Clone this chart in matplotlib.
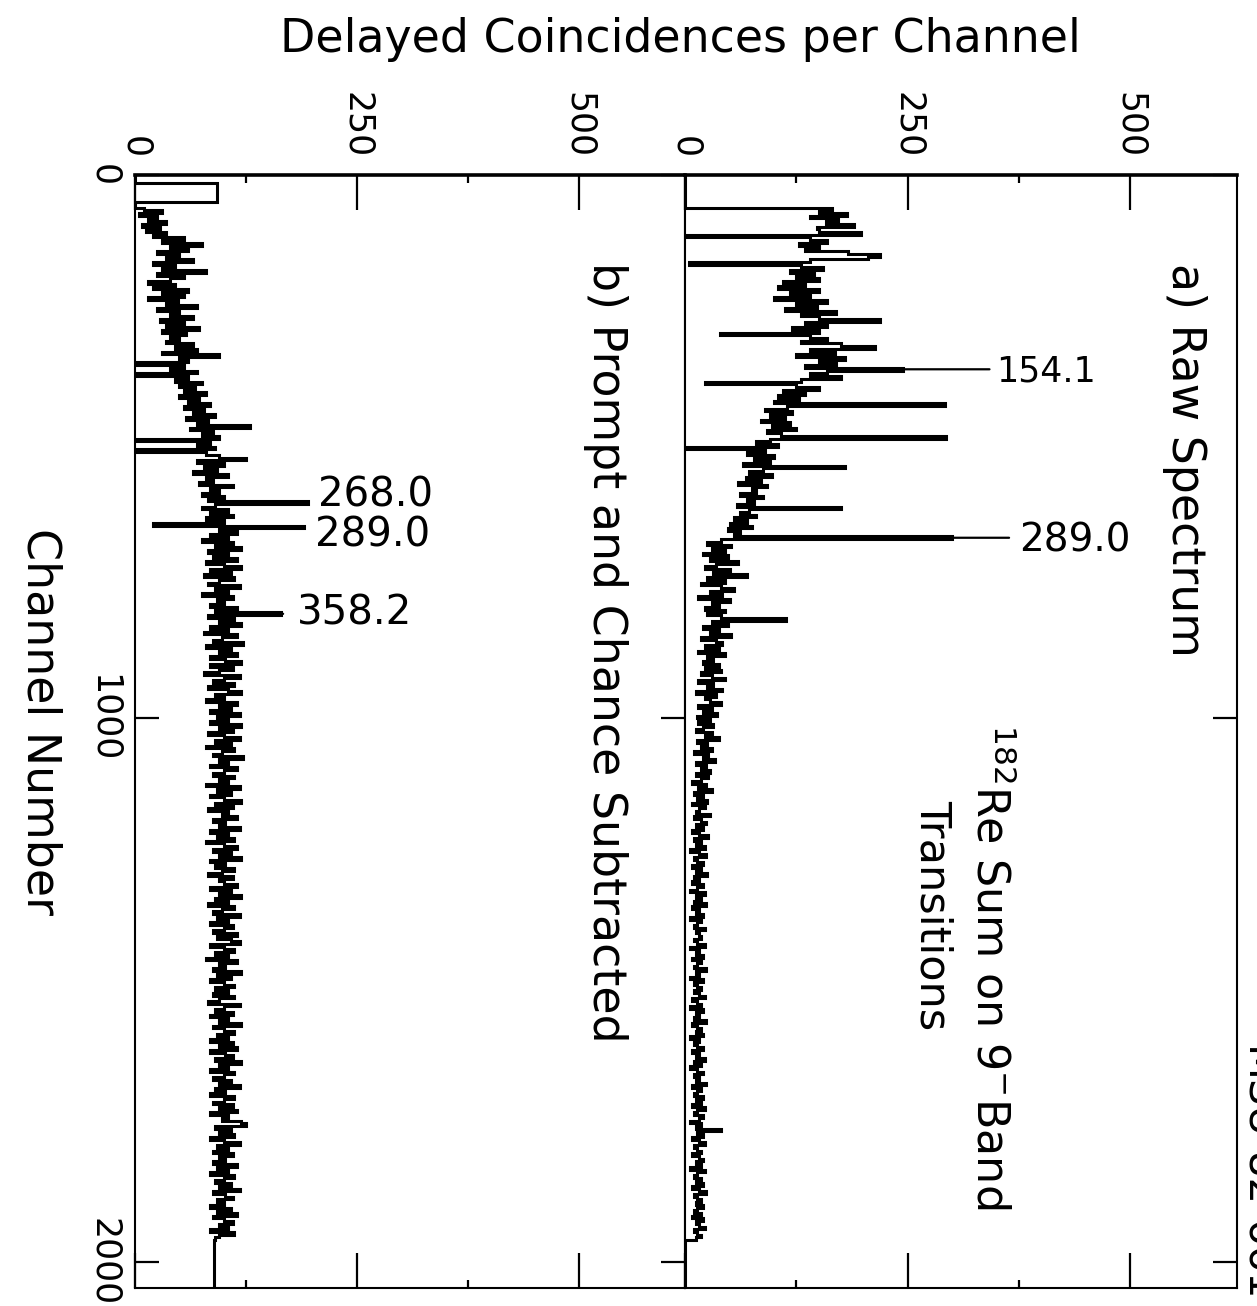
import numpy as np
import matplotlib.pyplot as plt
from matplotlib import font_manager

plt.rcParams['font.family'] = 'DejaVu Sans'
plt.rcParams['mathtext.default'] = 'regular'

W, H = 1257, 1306

# counts per 5-channel bin (channel 0 .. 2050)
bin_width = 5

# a) raw spectrum  (one row = 100 channels)
raw_counts = [
    0, 0, 0, 0, 0, 0, 0, 0, 0, 0, 0, 0, 165, 150, 182, 140, 172, 158, 190, 148,
    150, 198, 0, 140, 160, 128, 150, 135, 183, 219, 205, 140, 5, 130, 155, 118, 145, 125, 150, 110,
    135, 105, 150, 118, 140, 100, 160, 125, 148, 112, 170, 130, 150, 219, 135, 160, 120, 150, 39, 140,
    160, 130, 175, 213, 140, 168, 125, 180, 150, 170, 135, 245, 160, 140, 175, 130, 22, 125, 150, 110,
    135, 105, 128, 100, 292, 115, 90, 120, 95, 112, 85, 118, 98, 125, 92, 108, 293, 95, 80, 105,
    0, 90, 70, 100, 78, 95, 65, 180, 88, 72, 98, 68, 85, 60, 92, 75, 80, 62, 88, 70,
    78, 58, 175, 72, 62, 80, 55, 70, 50, 75, 48, 62, 55, 300, 40, 25, 52, 30, 45, 20,
    48, 28, 60, 35, 22, 50, 32, 70, 25, 45, 18, 40, 55, 28, 42, 15, 50, 30, 38, 22,
    45, 25, 40, 113, 30, 48, 20, 38, 28, 52, 18, 35, 42, 22, 38, 15, 45, 25, 32, 20,
    38, 22, 40, 18, 30, 45, 15, 32, 25, 42, 12, 35, 22, 28, 40, 15, 30, 20, 36, 14,
    28, 15, 32, 20, 12, 30, 22, 38, 14, 25, 18, 30, 10, 26, 20, 34, 12, 24, 18, 28,
    12, 26, 18, 8, 24, 15, 30, 10, 20, 14, 25, 8, 22, 16, 12, 28, 10, 18, 24, 12,
    20, 8, 16, 26, 10, 18, 12, 22, 6, 16, 24, 10, 14, 20, 8, 18, 12, 25, 10, 16,
    8, 20, 14, 6, 22, 12, 18, 10, 24, 8, 16, 12, 20, 6, 18, 14, 10, 22, 12, 16,
    18, 10, 14, 22, 6, 16, 12, 20, 8, 18, 14, 10, 24, 12, 16, 6, 20, 10, 14, 18,
    10, 16, 22, 8, 14, 18, 6, 20, 12, 16, 10, 24, 8, 14, 18, 12, 20, 6, 16, 10,
    14, 20, 8, 16, 12, 22, 10, 18, 6, 14, 20, 10, 16, 12, 24, 8, 18, 14, 10, 20,
    12, 18, 8, 22, 14, 10, 20, 16, 6, 18, 12, 40, 14, 20, 8, 16, 22, 10, 14, 18,
    8, 16, 20, 12, 18, 6, 22, 14, 10, 18, 12, 20, 8, 16, 24, 10, 14, 18, 12, 20,
    14, 10, 18, 8, 20, 12, 16, 22, 10, 14, 18, 12, 0, 0, 0, 0, 0, 0, 0, 0,
    0, 0, 0, 0, 0, 0, 0, 0, 0, 0,
]

# b) prompt and chance subtracted
sub_counts = [
    0, 0, 0, 92, 92, 92, 92, 92, 92, 92, 0, 0, 10, 30, 5, 25, 15, 35, 8, 28,
    12, 35, 20, 55, 30, 75, 40, 60, 25, 50, 35, 65, 20, 45, 30, 80, 25, 55, 40, 15,
    45, 20, 60, 30, 55, 15, 48, 35, 70, 25, 50, 40, 65, 28, 55, 35, 72, 30, 58, 40,
    50, 35, 65, 45, 70, 30, 95, 50, 60, 0, 55, 40, 70, 0, 60, 45, 75, 50, 68, 55,
    80, 50, 72, 60, 85, 55, 78, 65, 90, 58, 82, 70, 130, 62, 88, 75, 95, 0, 85, 70,
    90, 0, 80, 95, 125, 70, 100, 78, 92, 65, 105, 80, 88, 72, 110, 85, 95, 75, 100, 82,
    195, 90, 75, 105, 85, 110, 80, 100, 20, 190, 95, 115, 85, 105, 75, 110, 90, 120, 82, 105,
    88, 115, 80, 100, 120, 85, 108, 78, 112, 95, 82, 118, 90, 105, 75, 110, 92, 100, 85, 115,
    90, 165, 82, 112, 95, 120, 85, 105, 78, 115, 98, 88, 122, 80, 108, 95, 115, 85, 102, 120,
    85, 110, 95, 78, 118, 100, 88, 112, 82, 105, 120, 90, 100, 80, 115, 95, 108, 85, 118, 92,
    105, 85, 120, 95, 110, 82, 100, 118, 90, 108, 80, 112, 98, 88, 122, 95, 105, 85, 115, 100,
    88, 112, 95, 105, 80, 118, 92, 108, 85, 100, 120, 90, 110, 82, 105, 98, 115, 88, 102, 95,
    118, 85, 105, 92, 112, 80, 100, 115, 88, 108, 95, 120, 85, 102, 90, 112, 98, 82, 110, 95,
    100, 115, 85, 108, 95, 120, 90, 105, 82, 112, 98, 88, 118, 92, 105, 85, 110, 100, 88, 115,
    92, 108, 118, 85, 100, 112, 90, 105, 80, 115, 95, 102, 88, 120, 92, 108, 85, 100, 112, 90,
    105, 88, 112, 95, 82, 118, 100, 90, 110, 85, 105, 95, 120, 88, 100, 112, 92, 105, 85, 110,
    95, 115, 85, 102, 110, 90, 120, 95, 105, 85, 112, 100, 88, 108, 95, 118, 90, 102, 85, 112,
    100, 88, 110, 95, 115, 85, 105, 98, 120, 125, 90, 108, 95, 112, 85, 100, 118, 92, 105, 88,
    110, 95, 102, 88, 115, 92, 105, 85, 112, 100, 90, 108, 95, 118, 88, 102, 110, 92, 100, 85,
    108, 92, 115, 88, 100, 110, 95, 105, 85, 112, 95, 90, 89, 89, 89, 89, 89, 89, 89, 89,
    89, 89, 89, 89, 89, 89, 89, 89, 89, 89,
]

count_ticks = [0, 250, 500]
count_minor = [125, 375]
channel_ticks = [0, 1000, 2000]

# peak labels (energy in keV) and the channel of the peak
peaks_a = ['154.1', '289.0']
peak_ch_a = [357.5, 667.5]
peaks_b = ['268.0', '289.0', '358.2']
peak_ch_b = [602.5, 647.5, 807.5]

names = {f.name for f in font_manager.fontManager.ttflist}
narrow = 'Liberation Sans Narrow' in names
tick_font = 'Liberation Sans Narrow' if narrow else 'DejaVu Sans'
tick_size = 31 if narrow else 25


def px(x, y):
    return x / W, 1 - y / H


fig = plt.figure(figsize=(W / 100, H / 100), dpi=100)
top, bottom = 175, 1288
ax_b = fig.add_axes([135 / W, 1 - bottom / H, 550 / W, (bottom - top) / H])
ax_a = fig.add_axes([685 / W, 1 - bottom / H, 552 / W, (bottom - top) / H])

for ax, vals in [(ax_a, raw_counts), (ax_b, sub_counts)]:
    edges = np.arange(len(vals) + 1) * bin_width
    ax.stairs(vals, edges, orientation='horizontal', baseline=None,
              color='black', lw=2.2)
    ax.set_xlim(0, 620)
    ax.set_ylim(2048, 0)
    ax.set_xticks(count_ticks, labels=[str(t) for t in count_ticks],
                  family=tick_font)
    ax.set_xticks(count_minor, minor=True)
    ax.set_yticks(channel_ticks, labels=[str(t) for t in channel_ticks],
                  family=tick_font, va='center')
    ax.tick_params(axis='x', which='both', direction='in', top=True, bottom=True,
                   labeltop=True, labelbottom=False, labelrotation=-90,
                   labelsize=tick_size, pad=12, width=1.6)
    ax.tick_params(axis='x', which='major', length=25)
    ax.tick_params(axis='x', which='minor', length=6)
    ax.tick_params(axis='y', which='major', direction='in', length=17, width=1.6,
                   left=True, right=True, labelleft=False, labelrotation=-90,
                   labelsize=tick_size, pad=10)
    for s in ax.spines.values():
        s.set_linewidth(1.5)
    ax.spines['top'].set_linewidth(2.6)

ax_b.tick_params(axis='y', labelleft=True)
ax_a.tick_params(axis='y', left=False)


def label_peaks(ax, vals, labels, chans, line_end, text_x, text_ch, sizes):
    for lab, ch, le, tx, tc, fs in zip(labels, chans, line_end, text_x, text_ch, sizes):
        tip = vals[int(ch // bin_width)]
        ax.annotate('', xy=(tip, ch), xytext=(le, ch),
                    arrowprops=dict(arrowstyle='-', lw=1.6, shrinkA=0, shrinkB=0))
        ax.text(tx, tc, lab, va='center', ha='left', fontsize=fs)


label_peaks(ax_a, raw_counts, peaks_a, peak_ch_a, [342, 364], [349, 375],
            [361, 672], [25, 28])
label_peaks(ax_b, sub_counts, peaks_b, peak_ch_b, [194, 189, 167], [206, 203, 183],
            [590, 664, 806], [29, 29, 29])

fig.text(*px(680, 40), 'Delayed Coincidences per Channel', fontsize=33,
         ha='center', va='center')
fig.text(*px(40, 722), 'Channel Number', fontsize=33, rotation=-90,
         ha='center', va='center')
fig.text(*px(1185, 460), 'a) Raw Spectrum', fontsize=33, rotation=-90,
         ha='center', va='center')
fig.text(*px(605, 652), 'b) Prompt and Chance Subtracted', fontsize=33,
         rotation=-90, ha='center', va='center')
fig.text(*px(990, 967), r'$^{182}$Re Sum on 9$^{-}$Band', fontsize=32,
         rotation=-90, ha='center', va='center')
fig.text(*px(933, 915), 'Transitions', fontsize=31, rotation=-90,
         ha='center', va='center')
fig.text(*px(1256, 1175), 'MSU-82-661', fontsize=30, rotation=-90,
         ha='center', va='center')

fig.savefig('out.png', dpi=100, facecolor='white')
